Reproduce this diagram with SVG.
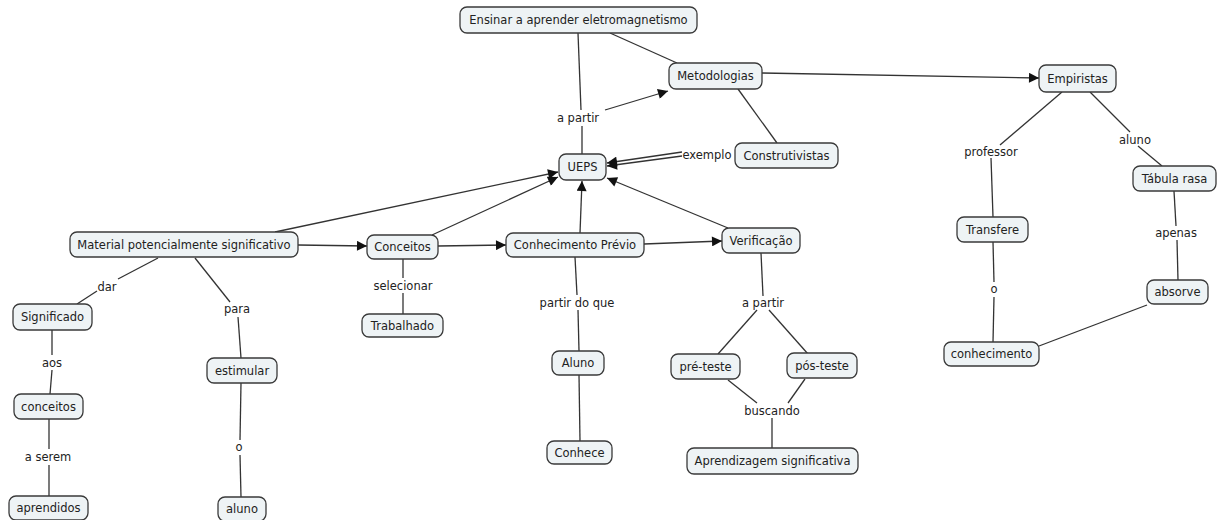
<svg xmlns="http://www.w3.org/2000/svg" width="1219" height="520" viewBox="0 0 1219 520">
  <style>
    .node rect { fill: #eef3f5; stroke: #3a3a3a; stroke-width: 1.3; }
    .node text, .lbl { font-family: "DejaVu Sans", Verdana, sans-serif; font-size: 11.5px; fill: #222; text-anchor: middle; }
    .links line { stroke: #333; stroke-width: 1.3; fill: none; }
    .links line.arrow { marker-end: url(#arr); }
  </style>
  <defs>
    <marker id="arr" viewBox="0 0 10 10" refX="10" refY="5" markerWidth="12" markerHeight="10" orient="auto" markerUnits="userSpaceOnUse">
      <path d="M0,0 L10,5 L0,10 z" fill="#111"/>
    </marker>
  </defs>
  <rect width="1219" height="520" fill="#fff"/>

  <!-- connectors -->
  <g class="links">
    <!-- Ensinar / UEPS / Metodologias -->
    <line x1="578" y1="33" x2="581" y2="110"/>
    <line x1="582" y1="126" x2="582" y2="154"/>
    <line class="arrow" x1="605" y1="110" x2="668" y2="91"/>
    <line x1="610" y1="33" x2="677" y2="63"/>
    <line x1="738" y1="89" x2="777" y2="143"/>
    <line class="arrow" x1="762" y1="73" x2="1039" y2="78"/>
    <line class="arrow" x1="682" y1="152" x2="607" y2="163"/>
    <line class="arrow" x1="682" y1="156" x2="607" y2="166"/>

    <!-- Empiristas branch -->
    <line x1="1062" y1="92" x2="1000" y2="145"/>
    <line x1="991" y1="158" x2="993" y2="217"/>
    <line x1="993" y1="242" x2="994" y2="282"/>
    <line x1="994" y1="297" x2="993" y2="342"/>
    <line x1="1090" y1="92" x2="1130" y2="132"/>
    <line x1="1138" y1="146" x2="1162" y2="166"/>
    <line x1="1174" y1="191" x2="1176" y2="226"/>
    <line x1="1177" y1="240" x2="1178" y2="280"/>
    <line x1="1147" y1="305" x2="1039" y2="346"/>

    <!-- into UEPS -->
    <line class="arrow" x1="275" y1="232" x2="558" y2="172"/>
    <line class="arrow" x1="432" y1="235" x2="558" y2="177"/>
    <line class="arrow" x1="580" y1="233" x2="582" y2="181"/>
    <line class="arrow" x1="728" y1="228" x2="607" y2="178"/>

    <!-- horizontal chain -->
    <line class="arrow" x1="298" y1="245" x2="367" y2="246"/>
    <line class="arrow" x1="438" y1="246" x2="506" y2="245"/>
    <line class="arrow" x1="644" y1="244" x2="722" y2="241"/>

    <!-- Material branch -->
    <line x1="158" y1="258" x2="118" y2="279"/>
    <line x1="97" y1="291" x2="77" y2="304"/>
    <line x1="195" y1="258" x2="230" y2="302"/>
    <line x1="238" y1="317" x2="241" y2="358"/>
    <line x1="52" y1="330" x2="52" y2="355"/>
    <line x1="52" y1="370" x2="50" y2="394"/>
    <line x1="49" y1="419" x2="49" y2="449"/>
    <line x1="49" y1="465" x2="49" y2="496"/>
    <line x1="241" y1="383" x2="240" y2="440"/>
    <line x1="240" y1="455" x2="241" y2="497"/>

    <!-- Conceitos / Conhecimento Prévio -->
    <line x1="403" y1="259" x2="403" y2="278"/>
    <line x1="403" y1="293" x2="403" y2="314"/>
    <line x1="575" y1="257" x2="577" y2="295"/>
    <line x1="578" y1="310" x2="579" y2="351"/>
    <line x1="579" y1="375" x2="580" y2="441"/>

    <!-- Verificação branch -->
    <line x1="761" y1="253" x2="763" y2="296"/>
    <line x1="757" y1="310" x2="718" y2="354"/>
    <line x1="769" y1="310" x2="808" y2="354"/>
    <line x1="728" y1="380" x2="757" y2="403"/>
    <line x1="805" y1="379" x2="788" y2="403"/>
    <line x1="772" y1="418" x2="772" y2="448"/>
  </g>

  <!-- link labels -->
  <g>
    <text class="lbl" x="578" y="122">a partir</text>
    <text class="lbl" x="707" y="159">exemplo</text>
    <text class="lbl" x="991" y="156">professor</text>
    <text class="lbl" x="1135" y="144">aluno</text>
    <text class="lbl" x="1176" y="237">apenas</text>
    <text class="lbl" x="994" y="293">o</text>
    <text class="lbl" x="107" y="291">dar</text>
    <text class="lbl" x="237" y="313">para</text>
    <text class="lbl" x="52" y="367">aos</text>
    <text class="lbl" x="48" y="461">a serem</text>
    <text class="lbl" x="239" y="451">o</text>
    <text class="lbl" x="403" y="290">selecionar</text>
    <text class="lbl" x="577" y="307">partir do que</text>
    <text class="lbl" x="763" y="307">a partir</text>
    <text class="lbl" x="772" y="415">buscando</text>
  </g>

  <!-- concepts -->
  <g id="ensinar" class="node"><rect x="460" y="7" width="237" height="26" rx="7"/><text x="578.5" y="24">Ensinar a aprender eletromagnetismo</text></g>
  <g id="metodologias" class="node"><rect x="669" y="63" width="93" height="26" rx="7"/><text x="715.5" y="80">Metodologias</text></g>
  <g id="construtivistas" class="node"><rect x="735" y="143" width="103" height="25" rx="7"/><text x="786.5" y="160">Construtivistas</text></g>
  <g id="ueps" class="node"><rect x="559" y="154" width="47" height="26" rx="7"/><text x="582.5" y="171">UEPS</text></g>
  <g id="empiristas" class="node"><rect x="1039" y="65" width="77" height="27" rx="7"/><text x="1077.5" y="82.5">Empiristas</text></g>
  <g id="tabula-rasa" class="node"><rect x="1133" y="166" width="83" height="25" rx="7"/><text x="1174.5" y="182.5">Tábula rasa</text></g>
  <g id="transfere" class="node"><rect x="957" y="217" width="71" height="25" rx="7"/><text x="992.5" y="233.5">Transfere</text></g>
  <g id="absorve" class="node"><rect x="1147" y="280" width="61" height="24" rx="7"/><text x="1177.5" y="296">absorve</text></g>
  <g id="conhecimento" class="node"><rect x="944" y="342" width="95" height="24" rx="7"/><text x="991.5" y="358">conhecimento</text></g>
  <g id="material" class="node"><rect x="70" y="232" width="228" height="25" rx="7"/><text x="184" y="248.5">Material potencialmente significativo</text></g>
  <g id="conceitos-sel" class="node"><rect x="367" y="235" width="71" height="24" rx="7"/><text x="402.5" y="251">Conceitos</text></g>
  <g id="conhecimento-previo" class="node"><rect x="506" y="233" width="138" height="24" rx="7"/><text x="575" y="249">Conhecimento Prévio</text></g>
  <g id="verificacao" class="node"><rect x="722" y="228" width="78" height="25" rx="7"/><text x="761" y="244.5">Verificação</text></g>
  <g id="trabalhado" class="node"><rect x="362" y="314" width="81" height="23" rx="7"/><text x="402.5" y="329.5">Trabalhado</text></g>
  <g id="aluno-cp" class="node"><rect x="552" y="351" width="52" height="24" rx="7"/><text x="578" y="367">Aluno</text></g>
  <g id="conhece" class="node"><rect x="547" y="441" width="65" height="23" rx="7"/><text x="579.5" y="456.5">Conhece</text></g>
  <g id="pre-teste" class="node"><rect x="671" y="354" width="69" height="25" rx="7"/><text x="705.5" y="370.5">pré-teste</text></g>
  <g id="pos-teste" class="node"><rect x="787" y="353" width="70" height="25" rx="7"/><text x="822" y="369.5">pós-teste</text></g>
  <g id="aprendizagem" class="node"><rect x="687" y="448" width="171" height="26" rx="7"/><text x="772.5" y="465">Aprendizagem significativa</text></g>
  <g id="significado" class="node"><rect x="13" y="304" width="79" height="26" rx="7"/><text x="52.5" y="321">Significado</text></g>
  <g id="conceitos" class="node"><rect x="14" y="394" width="69" height="25" rx="7"/><text x="48.5" y="410.5">conceitos</text></g>
  <g id="aprendidos" class="node"><rect x="9" y="496" width="79" height="24" rx="7"/><text x="48.5" y="512">aprendidos</text></g>
  <g id="estimular" class="node"><rect x="207" y="358" width="70" height="25" rx="7"/><text x="242" y="374.5">estimular</text></g>
  <g id="aluno" class="node"><rect x="218" y="497" width="48" height="24" rx="7"/><text x="242" y="513">aluno</text></g>
</svg>
